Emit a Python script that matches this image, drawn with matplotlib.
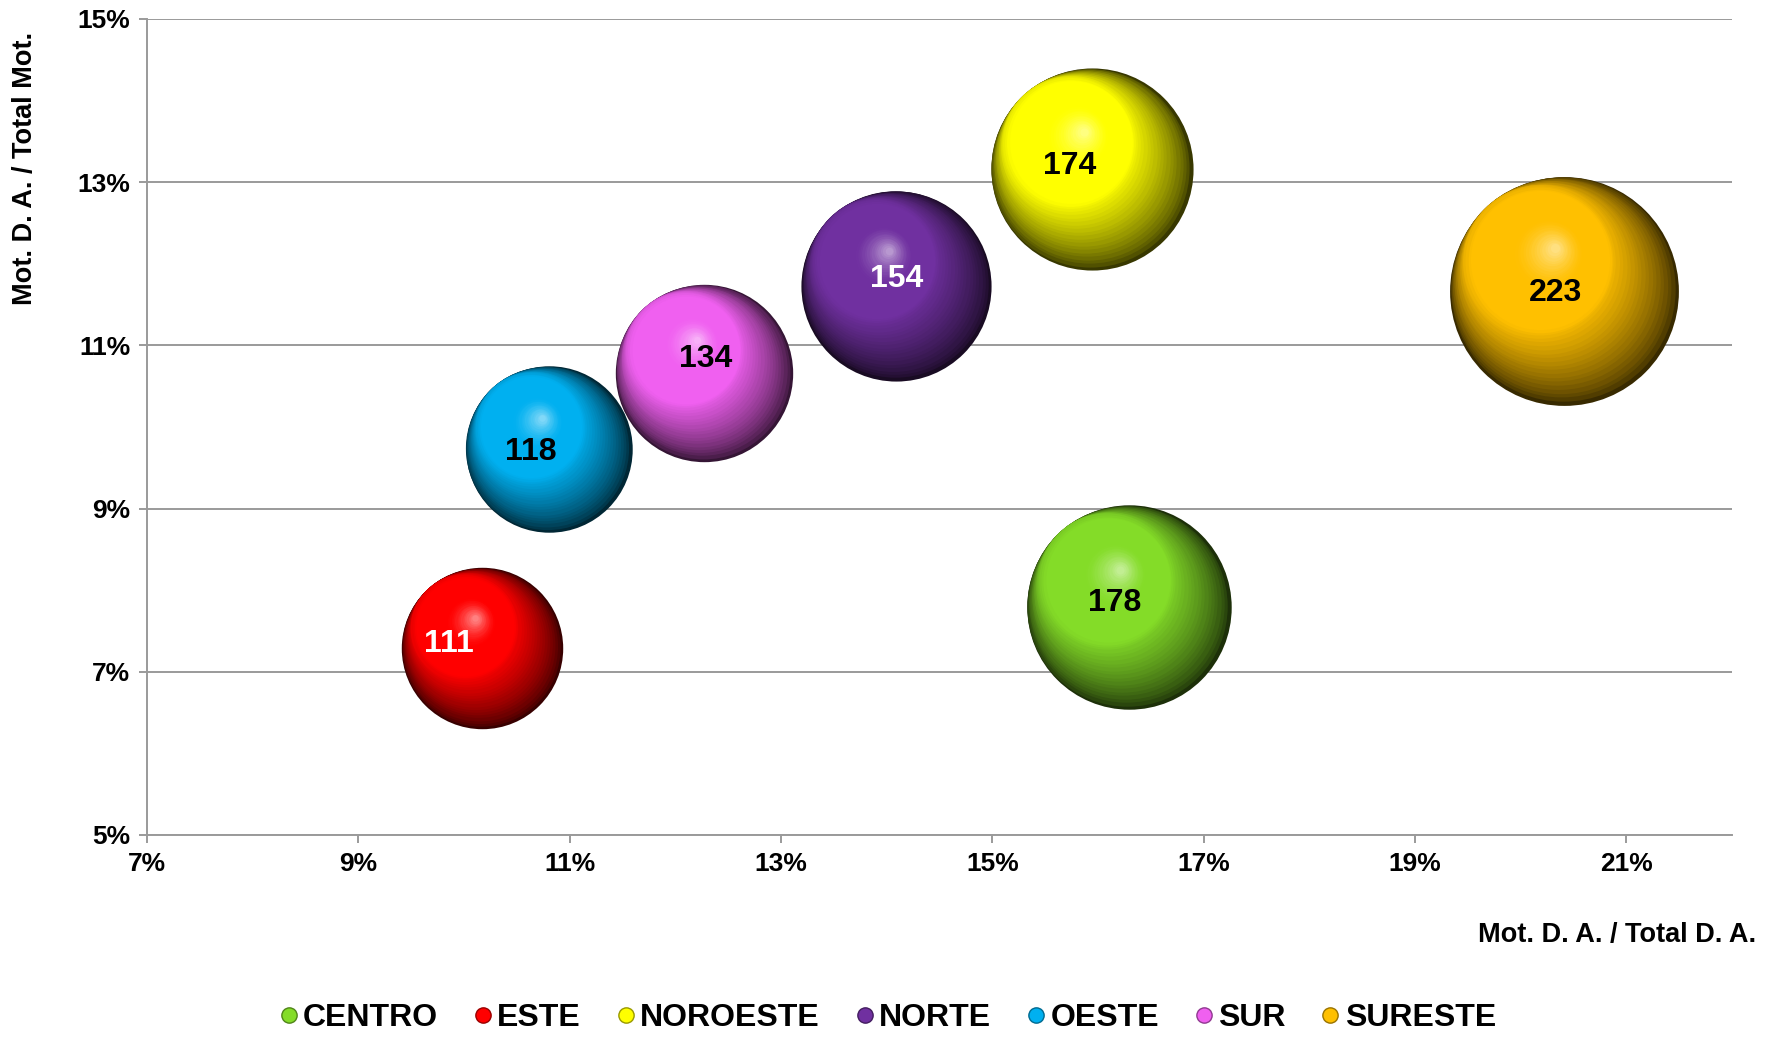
import numpy as np
import matplotlib
matplotlib.use("Agg")
import matplotlib.pyplot as plt
import matplotlib.transforms as mtransforms
from matplotlib.colors import to_rgb
from matplotlib.lines import Line2D

plt.rcParams['font.family'] = ['Liberation Sans', 'DejaVu Sans']
plt.rcParams['font.weight'] = 'bold'

# datos
zonas = ["CENTRO", "ESTE", "NOROESTE", "NORTE", "OESTE", "SUR", "SURESTE"]
x_pct = [16.29, 10.17, 15.94, 14.09, 10.80, 12.27, 20.41]   # Mot. D. A. / Total D. A.
y_pct = [7.79, 7.29, 13.16, 11.73, 9.73, 10.66, 11.67]      # Mot. D. A. / Total Mot.
valores = [178, 111, 174, 154, 118, 134, 223]
colores = ["#84dc28", "#ff0000", "#ffff00", "#7030a0", "#00b0f0", "#f060f0", "#ffc000"]
col_texto = ["black", "white", "black", "white", "black", "black", "black"]
xticks = [7, 9, 11, 13, 15, 17, 19, 21]
yticks = [5, 7, 9, 11, 13, 15]

# desplazamiento de etiquetas (puntos)
lbl_dx = [-10, -24, -16, 0, -13, 1, -6]
lbl_dy = [3, 3, 2, 5, -2, 10, -2]

DPI = 100
fig = plt.figure(figsize=(17.75, 10.37), dpi=DPI)
ax = fig.add_axes([0.0828, 0.1948, 0.893, 0.7869])

ax.set_xlim(7, 22)
ax.set_ylim(5, 15)
ax.set_xticks(xticks)
ax.set_yticks(yticks)
ax.set_xticklabels([f"{t}%" for t in xticks], fontsize=19, fontweight='bold')
ax.set_yticklabels([f"{t}%" for t in yticks], fontsize=19, fontweight='bold')
ax.grid(axis='y', color='#9a9a9a', linewidth=1.4)
ax.set_axisbelow(True)
for s in ['top', 'right']:
    ax.spines[s].set_visible(False)
for s in ['left', 'bottom']:
    ax.spines[s].set_color('#9a9a9a')
    ax.spines[s].set_linewidth(1.4)
ax.tick_params(axis='both', direction='out', length=6, width=1.4, color='#9a9a9a', pad=6)


def mezcla(c1, c2, f):
    return tuple(np.array(c1) * (1 - f) + np.array(c2) * f)


# esferas con sombreado por capas
k = 121.7  # area del marcador por unidad de valor (pt^2)
N = 50
u1 = np.array([-0.65, 0.76])
u1 = u1 / np.linalg.norm(u1)
h = np.array([-0.08, 0.37])
t1 = 0.35
for i in range(len(zonas)):
    base = to_rgb(colores[i])
    oscuro = mezcla(base, (0, 0, 0), 0.78)
    claro = mezcla(base, (1, 1, 1), 0.5)
    R = np.sqrt(k * valores[i]) / 2  # radio en puntos
    for t in np.linspace(0, 1, N):
        r = R * (1 - 0.96 * t)
        if t <= t1:
            off = (R - r) * u1
        else:
            p0 = (R - R * (1 - 0.96 * t1)) * u1
            f = (t - t1) / (1 - t1)
            off = p0 * (1 - f) + h * R * f
        if t < 0.4:
            col = mezcla(oscuro, base, (t / 0.4) ** 0.7)
        elif t < 0.72:
            col = base
        else:
            col = mezcla(base, claro, ((t - 0.72) / 0.28) ** 1.5)
        tr = ax.transData + mtransforms.ScaledTranslation(off[0] / 72, off[1] / 72, fig.dpi_scale_trans)
        ax.scatter([x_pct[i]], [y_pct[i]], s=(2 * r) ** 2, color=[col], linewidths=0,
                   transform=tr, zorder=3, clip_on=False)
    ax.annotate(str(valores[i]), (x_pct[i], y_pct[i]), xytext=(lbl_dx[i], lbl_dy[i]),
                textcoords='offset points', ha='center', va='center',
                fontsize=23, fontweight='bold', color=col_texto[i], zorder=5)

fig.text(25 / 1775, 1 - 32 / 1037, "Mot. D. A. / Total Mot.", rotation=90,
         ha='center', va='top', fontsize=19.5, fontweight='bold')
fig.text(1756 / 1775, 1 - 935 / 1037, "Mot. D. A. / Total D. A.",
         ha='right', va='center', fontsize=19.5, fontweight='bold')

handles = [Line2D([], [], linestyle='none', marker='o', markersize=11,
                  markerfacecolor=c, markeredgecolor=mezcla(to_rgb(c), (0, 0, 0), 0.4),
                  markeredgewidth=1) for c in colores]
fig.legend(handles, zonas, loc='center', bbox_to_anchor=(0.5, 0.018), ncol=7,
           frameon=False, handlelength=0.6, handletextpad=0.15, columnspacing=1.1,
           prop={'size': 23, 'weight': 'bold'})

fig.savefig("out.png", dpi=DPI)
